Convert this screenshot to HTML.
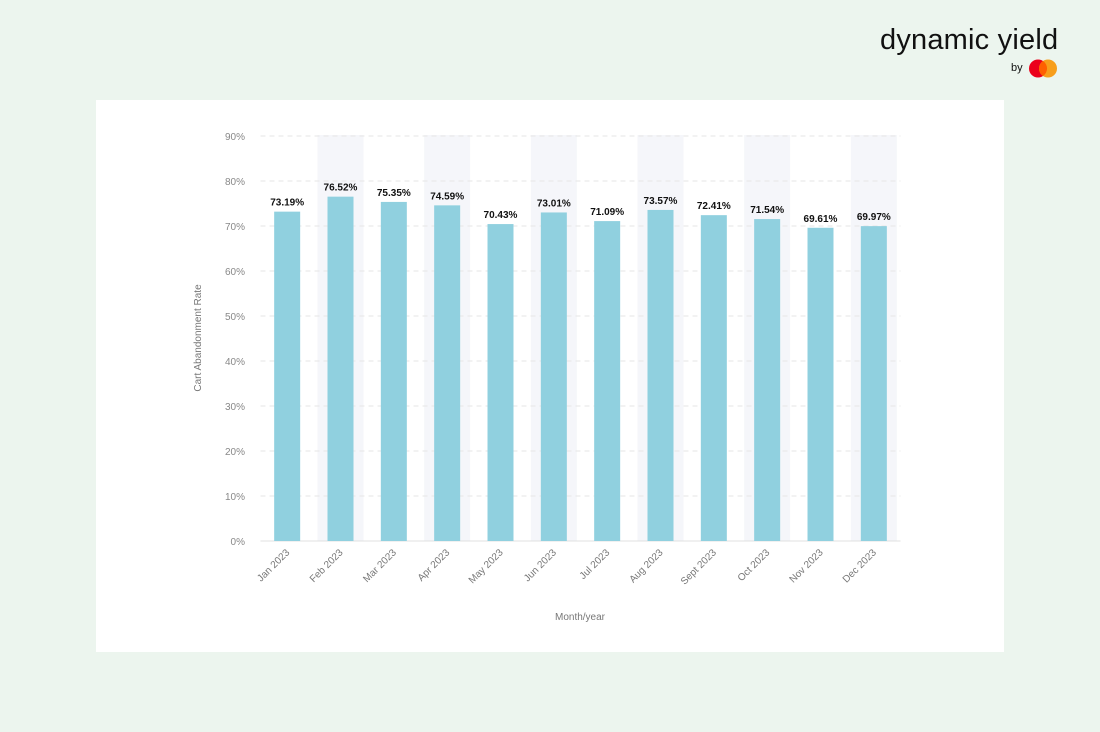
<!DOCTYPE html>
<html><head><meta charset="utf-8"><style>
body{margin:0;width:1100px;height:732px;background:#ecf5ee;font-family:"Liberation Sans",sans-serif;overflow:hidden;position:relative}
#card{position:absolute;left:96px;top:100px;width:908px;height:552px;background:#fff}
#logo{position:absolute;left:880px;top:24px;font-size:29px;color:#111;letter-spacing:0.2px;font-weight:300}
#by{position:absolute;left:1011px;top:62px;font-size:11px;color:#111}
</style></head><body>
<div id="logo">dynamic yield</div>
<div id="by">by</div>
<svg style="position:absolute;left:1026px;top:58px" width="34" height="22">
<circle cx="12" cy="10.5" r="9" fill="#eb001b"/><circle cx="22" cy="10.5" r="9" fill="#f79e1b"/><path d="M17 3 A9 9 0 0 1 17 18 A9 9 0 0 1 17 3Z" fill="#ff5f00"/></svg>
<div id="card"></div>
<svg id="chart" width="1100" height="732" style="position:absolute;left:0;top:0"></svg>
<script>
const categories=["Jan 2023","Feb 2023","Mar 2023","Apr 2023","May 2023","Jun 2023","Jul 2023","Aug 2023","Sept 2023","Oct 2023","Nov 2023","Dec 2023"];
const values=[73.19,76.52,75.35,74.59,70.43,73.01,71.09,73.57,72.41,71.54,69.61,69.97];
const ticks=[0,10,20,30,40,50,60,70,80,90];
const svg=document.getElementById('chart');const NS='http://www.w3.org/2000/svg';
const L=260.5,R=900.5,Y0=541,Y90=136;
const y=v=>Y0-(v/90)*(Y0-Y90);
const step=(R-L)/categories.length;
const xc=i=>L+step*(i+0.5);
function mk(t,a){const e=document.createElementNS(NS,t);for(const k in a)e.setAttribute(k,a[k]);svg.appendChild(e);return e;}
categories.forEach((c,i)=>{if(i%2==1){const b=mk('rect',{x:xc(i)-23,y:y(90)-1,width:46,height:Y0-y(90)+1,fill:'#f5f6fa'});

}});
ticks.forEach(t=>{const g=mk('line',{x1:L,x2:R,y1:y(t),y2:y(t),stroke:t?'#e6e6e6':'#e0e0e0','stroke-dasharray':t?'5,4':'none'});


const tx=mk('text',{x:245,y:y(t)+4,'text-anchor':'end','font-size':10,fill:'#888'});tx.textContent=t+'%';

});
values.forEach((v,i)=>{const b=mk('rect',{x:xc(i)-13,y:y(v),width:26,height:Y0-y(v),fill:'#90d0df'});


const l=mk('text',{x:xc(i),y:y(v)-6,'text-anchor':'middle','font-size':10,'font-weight':'bold',fill:'#111'});l.textContent=v.toFixed(2)+'%';


const cx=xc(i)+3,cy=553;const tl=mk('text',{x:cx,y:cy,'text-anchor':'end','font-size':10,fill:'#777',transform:`rotate(-45 ${cx} ${cy})`});tl.textContent=categories[i];

});
const xt=mk('text',{x:580,y:620,'text-anchor':'middle','font-size':10,fill:'#777'});xt.textContent='Month/year';


const yt=mk('text',{x:201,y:338,'text-anchor':'middle','font-size':10,fill:'#777',transform:'rotate(-90 201 338)'});yt.textContent='Cart Abandonment Rate';


</script>
</body></html>
